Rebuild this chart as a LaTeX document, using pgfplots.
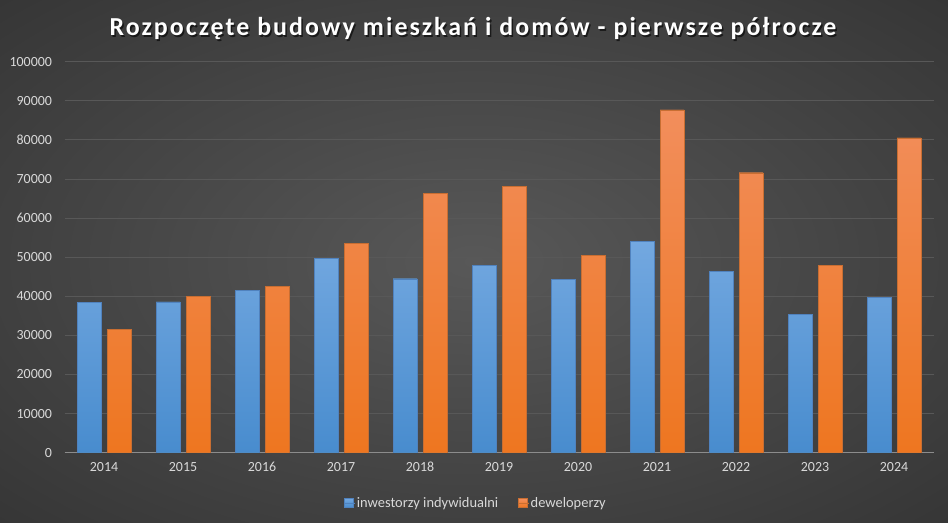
\documentclass[border=0pt]{standalone}
\usepackage{fontspec}
\setmainfont{Carlito}
\usepackage{pgfplots}
\pgfplotsset{compat=1.18}
\definecolor{bgin}{RGB}{88,88,88}
\definecolor{bgout}{RGB}{40,40,40}
\definecolor{txt}{RGB}{217,217,217}
\definecolor{gridc}{RGB}{88,88,88}
\definecolor{axisc}{RGB}{140,140,140}
\definecolor{bluetop}{RGB}{115,168,224}
\definecolor{bluebot}{RGB}{72,140,206}
\definecolor{blueedge}{RGB}{80,130,190}
\definecolor{orangetop}{RGB}{242,142,92}
\definecolor{orangebot}{RGB}{238,118,32}
\definecolor{orangeedge}{RGB}{200,110,50}
\pgfdeclareradialshading{bgshade}{\pgfpoint{0bp}{0bp}}{color(0bp)=(bgin); color(50bp)=(bgout)}
\newfontfamily\titlefont[LetterSpace=8]{Carlito}
\pgfplotstableread{
x inw dew
0 38400 31500
1 38600 40000
2 41500 42500
3 49700 53500
4 44500 66300
5 47900 68100
6 44300 50400
7 54100 87700
8 46300 71600
9 35300 47900
10 39800 80500
}\datatab
\begin{document}
\begin{tikzpicture}
\shade[shading=bgshade] (0,0) rectangle (948bp,523bp);
\node[text=black, opacity=0.6, font=\titlefont\fontsize{26}{30}\selectfont\bfseries] at (474.5bp,492.5bp) {Rozpoczęte budowy mieszkań i domów - pierwsze półrocze};
\node[text=white, font=\titlefont\fontsize{26}{30}\selectfont\bfseries] at (473bp,494bp) {Rozpoczęte budowy mieszkań i domów - pierwsze półrocze};
\begin{axis}[
  at={(64.5bp,70.3bp)}, anchor=south west,
  scale only axis, width=869bp, height=391bp,
  xmin=-0.5, xmax=10.5, ymin=0, ymax=100000,
  ybar=6bp, bar width=24bp,
  xtick=data, xticklabels={2014,2015,2016,2017,2018,2019,2020,2021,2022,2023,2024},
  ytick={0,10000,...,100000},
  scaled y ticks=false,
  /pgf/number format/assume math mode=true,
  yticklabel={\pgfmathprintnumber[fixed,1000 sep={}]{\tick}},
  tick label style={text=txt, font=\fontsize{14}{16}\selectfont},
  xticklabel style={yshift=-6bp},
  yticklabel style={xshift=-9bp},
  major tick length=0pt,
  ymajorgrids, grid style={gridc, line width=0.8bp},
  axis x line*=bottom, axis y line*=left,
  x axis line style={axisc, line width=1.5bp, -},
  y axis line style={draw=none},
  legend style={at={(0.473,-0.1286)}, anchor=center, draw=none, fill=none,
    text=txt, font=\fontsize{14.5}{16}\selectfont, legend columns=2,
    nodes={inner sep=1.5bp},
    /tikz/every even column/.append style={column sep=18bp}},
  legend image code/.code={\fill[#1] (0bp,-4.5bp) rectangle (9bp,4.5bp); \path (0bp,0bp) -- (11bp,0bp);},
]
\addplot[draw=blueedge, line width=0.4bp, top color=bluetop, bottom color=bluebot, fill=bluebot] table[x=x, y=inw] {\datatab};
\addlegendentry{inwestorzy indywidualni}
\addplot[draw=orangeedge, line width=0.4bp, top color=orangetop, bottom color=orangebot, fill=orangebot] table[x=x, y=dew] {\datatab};
\addlegendentry{deweloperzy}
\end{axis}
\end{tikzpicture}
\end{document}
